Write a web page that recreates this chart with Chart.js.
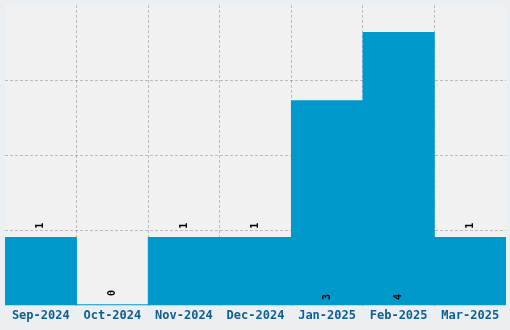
<!DOCTYPE html>
<html>
<head>
<meta charset="utf-8">
<script src="https://cdn.jsdelivr.net/npm/chart.js@4"></script>
<style>
  html, body { margin: 0; padding: 0; background: #eceff1; }
  #wrap { width: 510px; height: 330px; position: relative; }
</style>
</head>
<body>
<div id="wrap"><canvas id="chart"></canvas></div>
<script>
// datos del gráfico
const meses = ['Sep-2024', 'Oct-2024', 'Nov-2024', 'Dec-2024', 'Jan-2025', 'Feb-2025', 'Mar-2025'];
const cantidades = [1, 0, 1, 1, 3, 4, 1];
const yTicks = [0, 1.1, 2.2, 3.3, 4.4];

const gris = 'rgba(0,0,0,0.22)';
const nada = 'rgba(0,0,0,0)';

// fondo gris del área de dibujo
const areaFondo = {
  id: 'areaFondo',
  beforeDraw(chart) {
    const { ctx, chartArea: a } = chart;
    ctx.save();
    ctx.fillStyle = '#f1f1f1';
    ctx.fillRect(a.left, a.top, a.right - a.left, a.bottom - a.top);
    ctx.restore();
  }
};

// etiquetas de valor, giradas
const etiquetas = {
  id: 'etiquetas',
  afterDraw(chart) {
    const ctx = chart.ctx;
    const meta = chart.getDatasetMeta(0);
    ctx.save();
    ctx.font = 'bold 10px "DejaVu Sans Mono", monospace';
    ctx.fillStyle = '#000';
    ctx.textAlign = 'center';
    ctx.textBaseline = 'middle';
    meta.data.forEach((bar, i) => {
      const v = cantidades[i];
      // las barras altas llevan la etiqueta dentro, abajo
      const y = v >= 3 ? bar.base - 8 : bar.y - 11.5;
      ctx.save();
      ctx.translate(bar.x, y);
      ctx.rotate(-Math.PI / 2);
      ctx.fillText(String(v), 0, 0);
      ctx.restore();
    });
    ctx.restore();
  }
};

// solo las líneas entre categorías
const lineaX = (c) => c.type === 'tick' && c.index > 0;

const ctx = document.getElementById('chart').getContext('2d');
new Chart(ctx, {
  type: 'bar',
  data: {
    labels: meses,
    datasets: [{
      data: cantidades,
      backgroundColor: '#0099cc',
      borderWidth: 0,
      barPercentage: 1,
      categoryPercentage: 1,
      minBarLength: 1
    }]
  },
  options: {
    responsive: true,
    maintainAspectRatio: false,
    animation: false,
    layout: { padding: { left: 5, right: 4, top: 5, bottom: 4 } },
    plugins: {
      legend: { display: false },
      tooltip: { enabled: false }
    },
    scales: {
      x: {
        z: 1,
        border: { display: false, dash: [3, 2] },
        grid: {
          offset: true,
          drawTicks: false,
          color: (c) => lineaX(c) ? gris : nada,
          lineWidth: (c) => lineaX(c) ? 1 : 0
        },
        ticks: {
          color: '#0e5f97',
          padding: 3,
          font: { family: '"DejaVu Sans Mono", monospace', size: 12, weight: 'bold' }
        }
      },
      y: {
        z: 1,
        min: 0,
        max: 4.4,
        afterBuildTicks: (s) => { s.ticks = yTicks.map(v => ({ value: v })); },
        border: { display: false, dash: [3, 2] },
        grid: {
          drawTicks: false,
          color: (c) => (!c.tick || c.tick.value === 0 || c.tick.value === 4.4) ? nada : gris
        },
        ticks: { display: false }
      }
    }
  },
  plugins: [areaFondo, etiquetas]
});
</script>
</body>
</html>
